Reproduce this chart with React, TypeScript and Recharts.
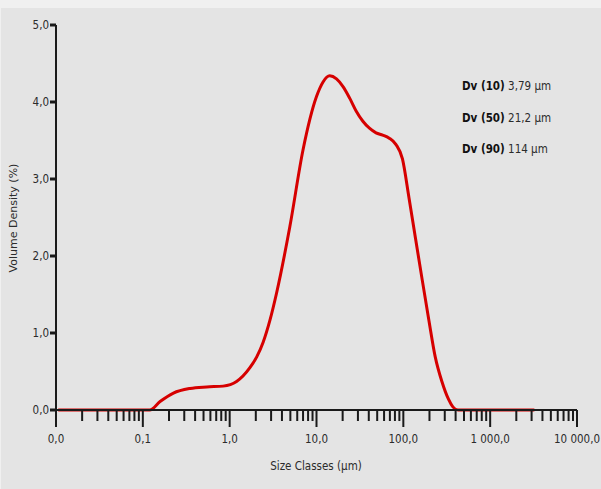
import { LineChart, Line, XAxis, YAxis } from "recharts";

// particle size (µm) and volume density (%)
const sizes = [
  0.0106, 0.05, 0.12, 0.158, 0.225, 0.35, 0.544, 0.84, 1.2, 1.71, 2.05, 2.43, 2.9, 3.47, 4.93,
  7.0, 10.0, 11.9, 14.2, 17, 20.2, 24.1, 28.7, 34.2, 40.7, 48.5, 57.8, 68.8, 82, 97.7, 116, 138,
  165, 196, 233, 278, 331, 372, 425, 1000, 3230,
];
const density = [
  0, 0, 0, 0.11, 0.22, 0.28, 0.3, 0.31, 0.37, 0.55, 0.69, 0.88, 1.16, 1.52, 2.38,
  3.38, 4.07, 4.26, 4.34, 4.3, 4.2, 4.05, 3.88, 3.75, 3.66, 3.6, 3.57, 3.53, 3.45, 3.26, 2.76,
  2.23, 1.69, 1.18, 0.69, 0.37, 0.14, 0.04, 0, 0, 0,
];

const decades = [0.01, 0.1, 1, 10, 100, 1000, 10000];
const decadeLabels = ["0,0", "0,1", "1,0", "10,0", "100,0", "1 000,0", "10 000,0"];
const yTicks = [0, 1, 2, 3, 4, 5];
const yLabels = ["0,0", "1,0", "2,0", "3,0", "4,0", "5,0"];

const percentiles = ["Dv (10)", "Dv (50)", "Dv (90)"];
const percentileValues = ["3,79 µm", "21,2 µm", "114 µm"];

const data = sizes.map((s, i) => ({ size: s, v: density[i] }));

const xTicks: number[] = [];
decades.slice(0, -1).forEach((d) => {
  for (let k = 1; k <= 9; k++) xTicks.push(d * k);
});
xTicks.push(10000);

const narrow = "'DejaVu Sans Condensed', 'Liberation Sans Narrow', 'Liberation Sans', sans-serif";
const ink = "#2b2b2b";

function XTick(props: any) {
  const { x, y, payload } = props;
  const idx = decades.findIndex((d) => Math.abs(d - payload.value) / d < 1e-6);
  const major = idx >= 0;
  return (
    <g>
      <line x1={x} x2={x} y1={y} y2={y + (major ? 17 : 11)} stroke="#1a1a1a" strokeWidth={2} />
      {major && (
        <text x={x} y={y + 33} textAnchor="middle" fontSize={11.5} fontFamily={narrow} fill={ink}>
          {decadeLabels[idx]}
        </text>
      )}
    </g>
  );
}

function YTick(props: any) {
  const { x, y, payload } = props;
  const idx = yTicks.indexOf(payload.value);
  return (
    <g>
      <line x1={x - 6} x2={x} y1={y} y2={y} stroke="#1a1a1a" strokeWidth={3} />
      <text x={x - 7} y={y + 4} textAnchor="end" fontSize={11.5} fontFamily={narrow} fill={ink}>
        {yLabels[idx]}
      </text>
    </g>
  );
}

export default function App() {
  return (
    <div style={{ position: "absolute", left: 0, top: 0, width: 601, height: 489, background: "#f0f0f0" }}>
      <div style={{ position: "absolute", left: 1, top: 8, width: 600, height: 481, background: "#e4e4e4" }} />
      <div style={{ position: "absolute", left: 0, top: 0 }}>
        <LineChart width={601} height={489} data={data} margin={{ top: 25, right: 24, bottom: 29, left: 16 }}>
          <XAxis
            dataKey="size"
            type="number"
            scale="log"
            domain={[0.01, 10000]}
            ticks={xTicks}
            interval={0}
            allowDataOverflow
            tickSize={0}
            tickMargin={0}
            tickLine={false}
            tick={<XTick />}
            axisLine={{ stroke: "#1a1a1a", strokeWidth: 2 }}
            height={50}
          />
          <YAxis
            type="number"
            domain={[0, 5]}
            ticks={yTicks}
            interval={0}
            tickSize={0}
            tickMargin={0}
            tickLine={false}
            tick={<YTick />}
            axisLine={{ stroke: "#1a1a1a", strokeWidth: 2 }}
            width={40}
          />
          <Line
            dataKey="v"
            type="monotone"
            stroke="#d60000"
            strokeWidth={3}
            dot={false}
            isAnimationActive={false}
          />
          <text x={316} y={470} textAnchor="middle" fontSize={11.5} fontFamily={narrow} fill={ink}>
            Size Classes (µm)
          </text>
          <text
            x={17}
            y={218}
            textAnchor="middle"
            fontSize={11}
            fontFamily="'DejaVu Sans', sans-serif"
            fill={ink}
            transform="rotate(-90 17 218)"
          >
            Volume Density (%)
          </text>
          {percentiles.map((p, i) => (
            <text key={p} x={462} y={90 + i * 31.5} fontSize={11.5} fontFamily={narrow} fill="#111">
              <tspan fontWeight="bold">{p}</tspan>
              <tspan fill={ink}> {percentileValues[i]}</tspan>
            </text>
          ))}
        </LineChart>
      </div>
    </div>
  );
}
